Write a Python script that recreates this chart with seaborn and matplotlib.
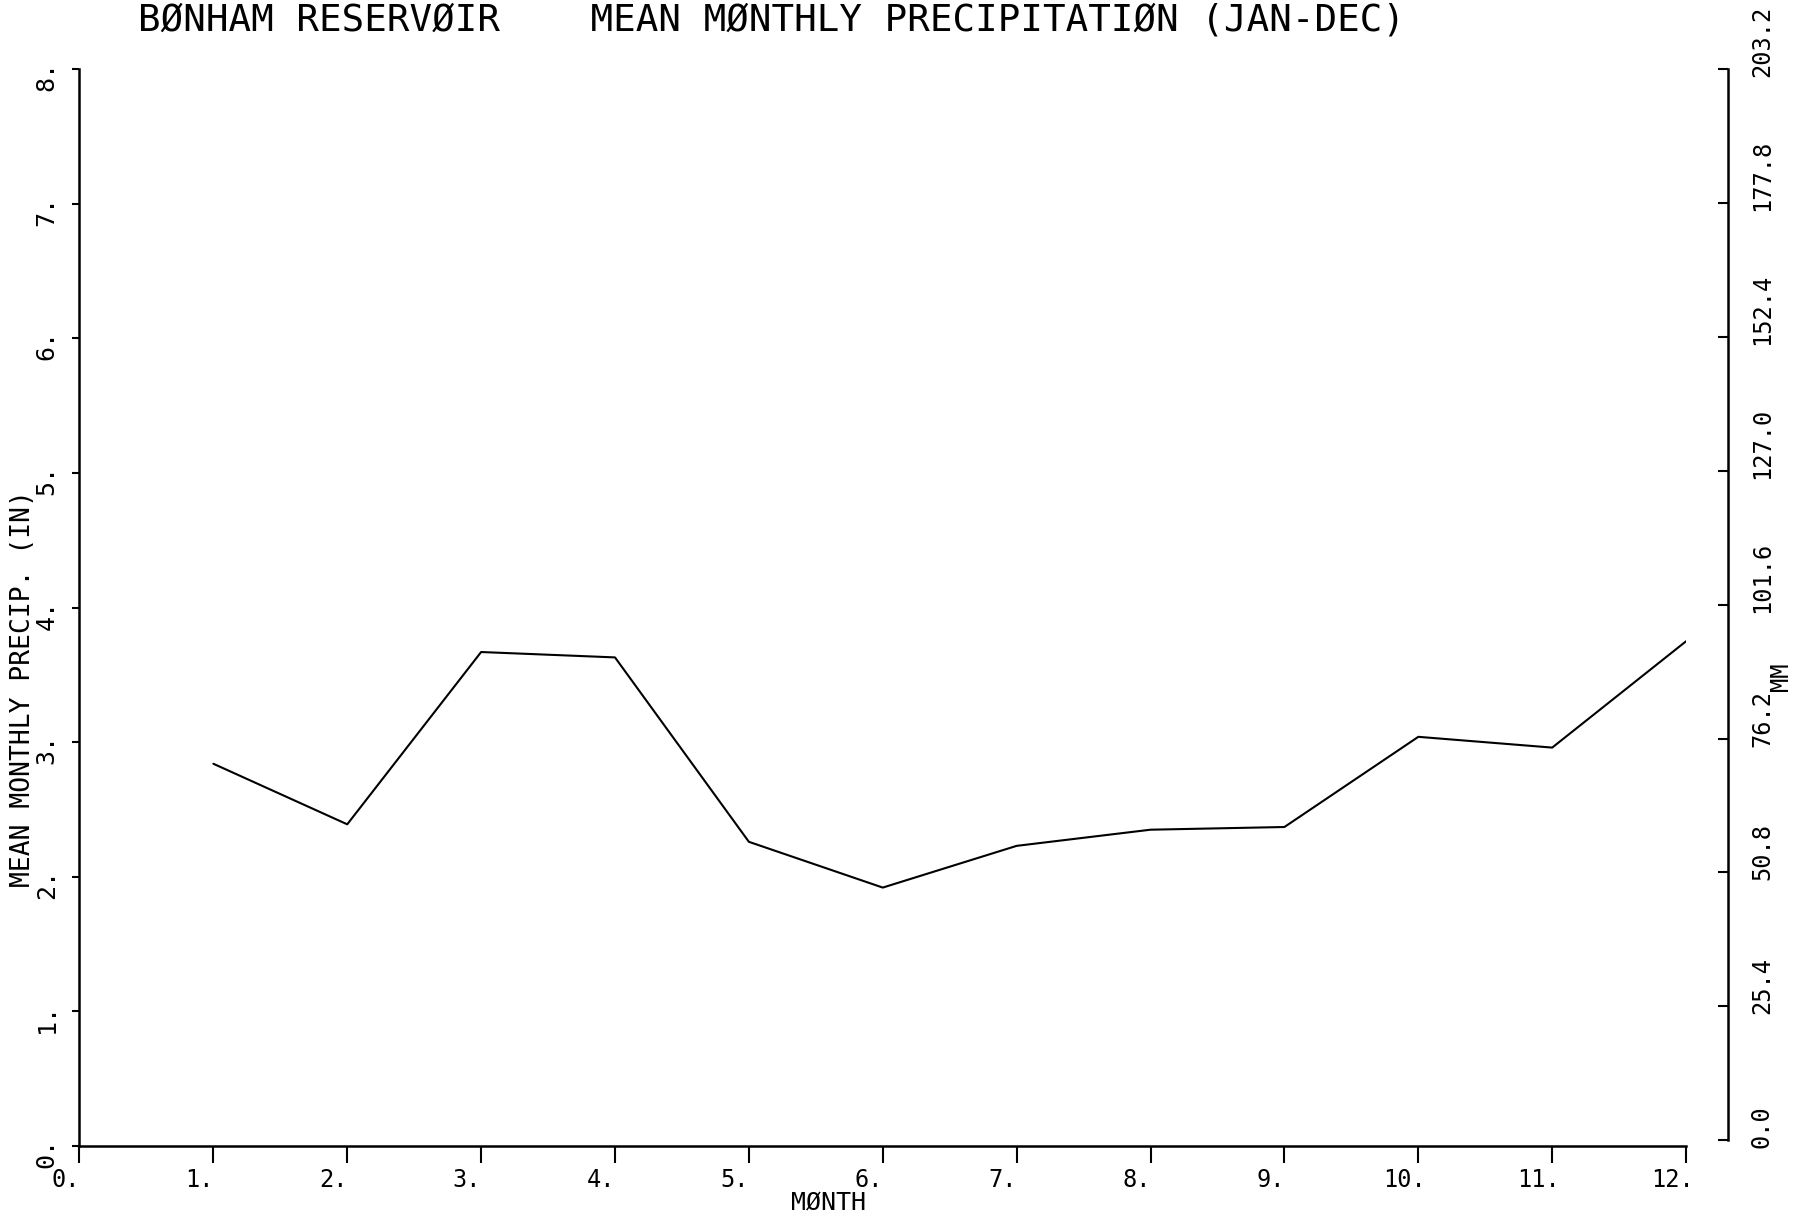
import numpy as np
import pandas as pd
import matplotlib
matplotlib.use("Agg")
import matplotlib.pyplot as plt
import seaborn as sns
from matplotlib.transforms import ScaledTranslation

# ---- data ----
months = [1, 2, 3, 4, 5, 6, 7, 8, 9, 10, 11, 12]
precip_in = [2.84, 2.39, 3.67, 3.63, 2.26, 1.92, 2.23, 2.35, 2.37, 3.04, 2.96, 3.75]
x_ticks = list(range(0, 13))
x_tick_labels = [f"{i}." for i in x_ticks]
y_ticks = list(range(0, 9))
y_tick_labels = [f"{i}." for i in y_ticks]
mm_ticks = [0.0, 25.4, 50.8, 76.2, 101.6, 127.0, 152.4, 177.8, 203.2]
mm_tick_labels = ["0.0", "25.4", "50.8", "76.2", "101.6", "127.0", "152.4", "177.8", "203.2"]

title_text = "BØNHAM RESERVØIR    MEAN MØNTHLY PRECIPITATIØN (JAN-DEC)"
x_label = "MØNTH"
y_label = "MEAN MONTHLY PRECIP. (IN)"
y2_label = "MM"

df = pd.DataFrame({"month": months, "precip": precip_in})

sns.set_theme(style="white")
plt.rcParams["font.family"] = ["DejaVu Sans Mono", "DejaVu Sans"]
plt.rcParams["text.color"] = "black"
plt.rcParams["xtick.color"] = "black"
plt.rcParams["ytick.color"] = "black"

fig = plt.figure(figsize=(18.06, 12.14), dpi=100)
ax = fig.add_axes([0.044, 0.056, 0.8896, 0.887])

sns.lineplot(data=df, x="month", y="precip", ax=ax, color="black", linewidth=1.5)
ax.set_xlim(0, 12)
ax.set_ylim(0, 8)
ax.set_xlabel("")
ax.set_ylabel("")

for s in ["top", "right"]:
    ax.spines[s].set_visible(False)
for s in ["left", "bottom"]:
    ax.spines[s].set_color("black")
    ax.spines[s].set_linewidth(1.8)

ax.set_xticks(x_ticks)
ax.set_xticklabels(x_tick_labels)
ax.set_yticks(y_ticks)
ax.set_yticklabels(y_tick_labels)
ax.tick_params(axis="x", bottom=True, direction="out", length=12, width=1.5, pad=4, labelsize=17)
ax.tick_params(axis="y", left=True, direction="out", length=5, width=1.5, pad=10, labelsize=18)

off_x = ScaledTranslation(-14 / 100, 0, fig.dpi_scale_trans)
for lab in ax.get_xticklabels():
    lab.set_ha("center")
    lab.set_transform(lab.get_transform() + off_x)
off_y = ScaledTranslation(0, -7 / 100, fig.dpi_scale_trans)
for lab in ax.get_yticklabels():
    lab.set_rotation(90)
    lab.set_va("center")
    lab.set_ha("right")
    lab.set_transform(lab.get_transform() + off_y)

# right-hand mm axis
ax2 = ax.twinx()
ax2.set_ylim(-1.1, 203.2)
for s in ["top", "left", "bottom"]:
    ax2.spines[s].set_visible(False)
ax2.spines["right"].set_position(("outward", 30))
ax2.spines["right"].set_bounds(0, 203.2)
ax2.spines["right"].set_color("black")
ax2.spines["right"].set_linewidth(1.8)
ax2.set_yticks(mm_ticks)
ax2.set_yticklabels(mm_tick_labels)
ax2.tick_params(axis="y", right=True, direction="in", length=7, width=1.5, pad=16, labelsize=17)
off_r = ScaledTranslation(0, -8 / 100, fig.dpi_scale_trans)
for lab in ax2.get_yticklabels():
    lab.set_rotation(90)
    lab.set_va("bottom")
    lab.set_ha("left")
    lab.set_transform(lab.get_transform() + off_r)
ax2.grid(False)
ax.grid(False)

# texts
fig.text(138 / 1806, 1 - 21 / 1214, title_text, ha="left", va="center", fontsize=27)
fig.text(829 / 1806, 1 - 1202 / 1214, x_label, ha="center", va="center", fontsize=18)
fig.text(23 / 1806, 1 - 689 / 1214, y_label, ha="center", va="center", rotation=90, fontsize=19)
fig.text(1781 / 1806, 1 - 677 / 1214, y2_label, ha="center", va="center", rotation=90, fontsize=17)

fig.savefig("out.png", dpi=100, facecolor="white")
